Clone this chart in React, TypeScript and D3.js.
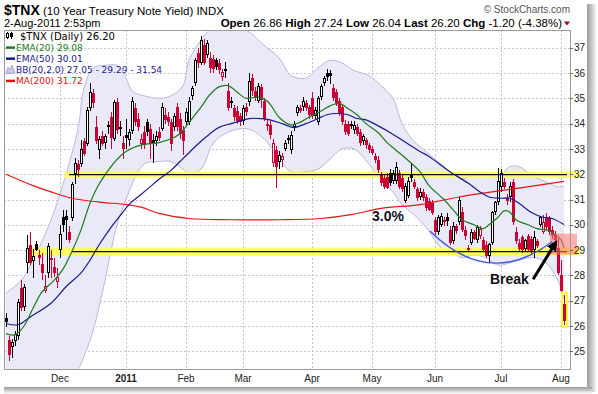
import { useEffect, useRef } from 'react';
import * as d3 from 'd3';

// trading calendar (NYSE) for the visible window
const firstDay = [2010, 10, 4];
const lastDay = [2011, 7, 2];
const holidays = ['2010-11-25', '2010-12-24', '2011-01-17', '2011-02-21', '2011-04-22', '2011-05-30', '2011-07-04'];

// daily OHLC of $TNX (yield x10)
const opens = [
    // Nov
    26.30, 25.45, 25.15, 25.40, 25.60, 27.50, 26.75, 28.50, 29.20, 28.55, 29.25, 28.80, 28.45, 27.40, 28.10, 28.70, 28.35, 27.75,
    // Dec
    29.00, 30.30, 30.35, 29.70, 30.25, 32.00, 32.40, 32.40, 33.30, 33.20, 34.60, 35.20, 33.85, 32.95, 33.50, 33.25, 33.85, 34.25, 33.40, 34.85, 33.85, 33.25,
    // Jan
    33.55, 33.35, 33.70, 34.60, 34.20, 33.20, 33.65, 34.05, 33.80, 33.35, 33.30, 33.65, 33.80, 34.35, 34.25, 34.05, 33.85, 34.65, 34.20, 33.75,
    // Feb
    34.05, 34.05, 35.10, 35.60, 36.80, 36.40, 37.10, 36.70, 36.60, 36.55, 36.50, 36.40, 35.85, 36.15, 35.30, 34.90, 34.60, 34.50, 34.30,
    // Mar
    34.10, 34.65, 34.85, 35.80, 35.30, 34.90, 35.45, 34.90, 33.90, 33.95, 32.45, 32.95, 32.50, 32.55, 33.00, 33.45, 32.95, 33.85, 34.40, 34.60, 34.65, 34.80, 34.65,
    // Apr
    35.00, 34.30, 34.05, 35.05, 35.60, 36.00, 36.00, 35.40, 35.25, 34.90, 34.65, 34.00, 34.00, 34.00, 33.75, 33.85, 33.65, 33.30, 33.35, 33.15,
    // May
    33.00, 32.70, 32.55, 31.95, 31.85, 31.90, 32.05, 31.75, 31.75, 32.05, 31.85, 30.95, 31.15, 32.00, 31.70, 31.40, 31.10, 31.30, 31.10, 30.95, 30.85,
    // Jun
    30.20, 29.70, 30.00, 30.20, 30.30, 29.80, 29.35, 29.95, 30.10, 30.50, 29.80, 29.00, 29.30, 29.70, 29.40, 29.55, 29.40, 29.20, 28.75, 29.30, 30.50, 30.90,
    // Jul
    31.50, 31.70, 31.05, 31.10, 31.70, 29.70, 29.30, 29.50, 29.05, 29.55, 29.45, 29.00, 29.35, 30.00, 29.70, 30.30, 30.25, 29.80, 29.65, 29.10,
    // Aug
    28.00, 26.86,
];
const highs = [
    26.50, 25.60, 25.50, 25.80, 27.05, 27.80, 27.65, 29.60, 29.70, 29.05, 29.35, 29.00, 28.90, 28.00, 29.30, 29.00, 28.70, 28.30,
    30.00, 30.60, 30.60, 29.95, 31.70, 32.65, 32.55, 33.35, 33.45, 34.65, 35.60, 35.35, 34.30, 33.50, 33.70, 33.60, 34.10, 34.45, 34.95, 35.00, 34.10, 33.50,
    34.20, 33.80, 35.05, 34.80, 34.40, 33.60, 33.90, 34.20, 34.00, 33.60, 33.70, 33.85, 34.80, 34.60, 34.45, 34.20, 34.40, 34.80, 34.40, 33.90,
    34.60, 35.05, 35.50, 36.60, 37.00, 37.45, 37.35, 37.30, 36.85, 36.70, 36.60, 36.55, 36.15, 36.45, 35.60, 35.05, 34.75, 34.70, 34.40,
    34.75, 34.80, 36.00, 35.95, 35.45, 35.60, 35.55, 35.00, 34.20, 34.10, 33.40, 33.10, 32.90, 32.85, 33.35, 33.55, 33.70, 34.10, 34.75, 34.75, 35.05, 34.95, 34.75,
    35.25, 34.65, 35.10, 35.55, 35.90, 36.15, 36.10, 35.55, 35.35, 35.00, 34.75, 34.15, 34.10, 34.10, 34.10, 34.00, 33.80, 33.60, 33.45, 33.25,
    33.10, 32.85, 32.70, 32.10, 31.95, 32.05, 32.20, 32.15, 32.50, 32.15, 31.95, 31.65, 31.90, 32.40, 31.80, 31.50, 31.45, 31.40, 31.20, 31.05, 31.00,
    30.30, 30.40, 30.45, 30.30, 30.45, 29.95, 30.10, 30.05, 31.10, 30.70, 29.95, 29.20, 29.85, 29.80, 30.00, 29.95, 29.50, 29.35, 29.30, 30.55, 30.95, 32.25,
    32.20, 31.85, 31.20, 31.70, 31.80, 29.90, 29.45, 29.60, 29.45, 29.65, 29.55, 29.75, 29.45, 30.35, 30.40, 30.45, 30.35, 29.95, 29.75, 29.45,
    28.60, 27.24,
];
const lows = [
    25.95, 24.60, 24.75, 25.20, 25.45, 26.60, 26.60, 28.10, 28.40, 27.90, 28.95, 28.40, 27.80, 27.30, 27.90, 27.90, 27.95, 27.50,
    28.70, 29.70, 29.40, 29.30, 30.15, 31.60, 31.90, 32.30, 32.70, 33.10, 34.50, 34.60, 33.20, 32.60, 33.10, 33.00, 33.60, 33.00, 33.30, 33.60, 33.50, 32.60,
    33.00, 33.10, 33.60, 33.90, 33.70, 33.00, 33.00, 33.50, 32.60, 32.45, 33.10, 33.30, 33.70, 34.00, 33.90, 32.90, 33.70, 33.70, 33.40, 32.75,
    33.90, 33.95, 34.95, 35.50, 36.20, 36.30, 36.30, 36.60, 36.00, 36.00, 36.10, 35.95, 35.70, 35.80, 34.50, 34.60, 34.10, 34.00, 33.90,
    33.95, 34.30, 34.70, 35.10, 34.90, 34.80, 34.60, 34.10, 33.70, 33.40, 32.30, 31.45, 32.20, 32.30, 32.90, 33.20, 32.80, 33.70, 34.30, 34.40, 34.50, 34.50, 34.20,
    34.20, 34.20, 33.95, 34.95, 35.50, 35.70, 35.55, 34.90, 34.70, 34.30, 33.95, 33.55, 33.50, 33.80, 33.60, 33.50, 33.10, 33.15, 33.00, 32.85,
    32.75, 32.45, 32.05, 31.55, 31.40, 31.40, 31.55, 31.60, 31.60, 31.40, 31.30, 30.85, 31.05, 31.70, 31.40, 30.95, 31.00, 30.95, 30.55, 30.55, 30.40,
    29.60, 29.60, 29.90, 29.95, 29.95, 29.20, 29.25, 29.65, 30.00, 29.70, 29.40, 28.95, 29.20, 29.40, 29.30, 29.45, 28.95, 28.70, 28.50, 29.20, 30.40, 30.80,
    31.30, 31.40, 30.80, 30.90, 30.00, 29.25, 28.95, 28.90, 28.95, 28.95, 28.85, 28.70, 29.10, 29.90, 29.65, 29.80, 29.60, 29.45, 29.30, 28.00,
    27.30, 26.04,
];
const closes = [
    26.15, 24.85, 25.35, 25.70, 26.95, 26.70, 27.55, 29.10, 28.50, 28.75, 29.00, 28.70, 28.10, 27.60, 29.15, 28.60, 28.10, 27.95,
    29.65, 30.00, 30.20, 29.40, 31.60, 32.45, 32.15, 33.00, 32.80, 34.55, 35.25, 34.80, 33.30, 33.40, 33.20, 33.50, 33.95, 33.45, 34.85, 33.75, 33.80, 33.00,
    33.45, 33.65, 34.90, 34.05, 33.85, 33.40, 33.15, 33.65, 33.20, 33.25, 33.50, 33.45, 34.65, 34.15, 34.05, 33.20, 34.30, 33.85, 33.60, 33.30,
    34.45, 34.90, 35.40, 36.50, 36.40, 37.30, 36.40, 37.20, 36.20, 36.15, 36.25, 36.10, 36.05, 36.08, 34.60, 34.80, 34.25, 34.10, 34.05,
    34.60, 34.45, 35.70, 35.30, 35.00, 35.50, 34.95, 34.20, 34.00, 33.55, 33.25, 32.30, 32.75, 32.70, 33.25, 33.35, 33.55, 34.00, 34.65, 34.50, 34.90, 34.60, 34.35,
    34.30, 34.55, 35.00, 35.50, 35.80, 35.85, 35.90, 35.00, 34.80, 34.40, 34.05, 33.65, 33.60, 33.90, 33.95, 33.60, 33.25, 33.50, 33.15, 32.95,
    32.85, 32.55, 32.15, 31.65, 31.50, 31.45, 31.65, 32.05, 32.30, 31.50, 31.40, 31.55, 31.75, 31.85, 31.50, 31.05, 31.30, 31.05, 30.65, 30.60, 30.45,
    29.70, 30.30, 30.35, 30.10, 30.15, 29.30, 29.95, 29.75, 31.00, 29.80, 29.55, 29.10, 29.70, 29.45, 29.90, 29.85, 29.00, 28.75, 29.25, 30.50, 30.90, 31.75,
    32.05, 31.50, 30.95, 31.55, 30.10, 29.35, 29.05, 29.00, 29.40, 29.00, 28.95, 29.50, 29.15, 30.30, 30.10, 29.90, 29.70, 29.55, 29.40, 28.10,
    27.40, 26.20,
];

// overlays as [bar index, value]
const ema20: [number, number][] = [
    [0, 25.7], [3, 25.65], [6, 26.0], [9, 26.7], [12, 27.35], [16, 27.8], [19, 28.25], [22, 28.95], [25, 29.8], [28, 30.85],
    [31, 31.6], [36, 32.45], [40, 32.9], [45, 33.15], [51, 33.25], [55, 33.4], [58, 33.6], [61, 34.05], [65, 34.65], [68, 35.15],
    [71, 35.45], [74, 35.5], [77, 35.25], [80, 35.0], [84, 35.05], [87, 34.9], [89, 34.6], [91, 34.25], [95, 33.95], [98, 34.05],
    [101, 34.25], [105, 34.5], [108, 34.7], [111, 34.8], [114, 34.6], [117, 34.35], [120, 34.0], [124, 33.65], [127, 33.25], [130, 32.95],
    [134, 32.55], [138, 32.1], [141, 31.55], [146, 31.0], [149, 30.6], [152, 30.2], [156, 30.0], [159, 29.85], [161, 30.0], [164, 30.3],
    [166, 30.55], [168, 30.5], [170, 30.2], [174, 30.0], [177, 29.85], [180, 29.8], [182, 29.7], [185, 29.4], [186, 29.08],
];
const ema50: [number, number][] = [
    [0, 26.1], [4, 26.05], [8, 26.35], [15, 26.9], [20, 27.55], [25, 28.1], [28, 28.6], [31, 29.2], [35, 29.9], [38, 30.35],
    [41, 30.8], [45, 31.2], [48, 31.5], [51, 31.8], [55, 32.15], [58, 32.5], [61, 32.85], [65, 33.3], [68, 33.6], [71, 33.85],
    [75, 34.0], [78, 34.1], [81, 34.2], [85, 34.2], [88, 34.15], [92, 34.0], [96, 33.85], [100, 34.0], [104, 34.2], [107, 34.35],
    [110, 34.4], [114, 34.35], [117, 34.2], [120, 34.15], [125, 33.85], [128, 33.65], [132, 33.35], [138, 32.9], [141, 32.7], [148, 32.1],
    [154, 31.65], [158, 31.3], [161, 31.1], [165, 31.05], [168, 31.05], [171, 30.85], [175, 30.5], [179, 30.3], [182, 30.25], [186, 30.01],
];
const ma200: [number, number][] = [
    [0, 32.0], [9, 31.55], [15, 31.3], [22, 31.05], [31, 30.9], [40, 30.8], [45, 30.7], [51, 30.45], [61, 30.25], [75, 30.2],
    [91, 30.2], [105, 30.25], [115, 30.4], [125, 30.65], [138, 30.8], [151, 31.1], [168, 31.4], [186, 31.72],
];
const bbIndex = [0, 5, 9, 15, 19, 24, 26, 29, 33, 37, 40, 42, 46, 51, 55, 59, 61, 65, 69, 73, 80, 86, 91, 95, 100, 104, 108, 112, 116, 121, 125, 129, 132, 136, 140, 145, 149, 152, 156, 160, 164, 168, 171, 176, 180, 184, 186];
const bbUpper = [27.3, 27.8, 28.6, 30.2, 31.6, 33.8, 35.4, 36.2, 36.3, 36.3, 35.8, 35.3, 35.1, 35.0, 35.1, 35.5, 36.5, 37.3, 37.8, 37.9, 37.7, 37.1, 36.6, 35.9, 35.8, 36.2, 36.5, 36.4, 36.1, 35.9, 35.5, 35.0, 34.0, 33.3, 32.9, 32.4, 32.0, 31.8, 32.0, 32.0, 31.9, 32.3, 32.3, 31.9, 31.7, 31.5, 31.54];
const bbLower = [23.5, 23.6, 23.7, 23.9, 23.9, 24.3, 24.8, 25.8, 27.8, 30.0, 31.0, 31.6, 32.4, 32.5, 32.5, 32.2, 32.0, 32.2, 33.2, 33.6, 33.8, 33.4, 32.6, 32.1, 32.1, 32.2, 32.6, 33.0, 33.0, 32.4, 31.8, 31.3, 30.8, 30.4, 29.9, 29.1, 28.9, 28.7, 28.8, 28.7, 28.4, 28.5, 28.6, 28.7, 28.5, 27.8, 27.05];

const yTicks = d3.range(25, 38);
const supportLevels = [31.98, 28.94];
const supportStart = [19.5, 8.6];
const quote: [string, string][] = [['Open', '26.86'], ['High', '27.24'], ['Low', '26.04'], ['Last', '26.20'], ['Chg', '-1.20 (-4.38%)']];
const legendRows = [
    { label: '$TNX (Daily) 26.20', color: '#000', icon: 'candle' },
    { label: 'EMA(20) 29.08', color: '#1e7a1e', icon: 'line' },
    { label: 'EMA(50) 30.01', color: '#1a1a8c', icon: 'line' },
    { label: 'BB(20,2.0) 27.05 - 29.29 - 31.54', color: '#1a1a8c', icon: 'band' },
    { label: 'MA(200) 31.72', color: '#e01010', icon: 'line' },
];

function tradingDays() {
    const off = new Set(holidays);
    const out: Date[] = [];
    const end = Date.UTC(lastDay[0], lastDay[1], lastDay[2]);
    for (let t = Date.UTC(firstDay[0], firstDay[1], firstDay[2]); t <= end; t += 86400000) {
        const d = new Date(t);
        const wd = d.getUTCDay();
        if (wd === 0 || wd === 6 || off.has(d.toISOString().slice(0, 10))) continue;
        out.push(d);
    }
    return out;
}

export default function App() {
    const ref = useRef<SVGSVGElement | null>(null);

    useEffect(() => {
        const svg = d3.select(ref.current);
        svg.selectAll('*').remove();

        const days = tradingDays();
        const left = 4, right = 570, top = 30, bottom = 369;
        const x = d3.scaleLinear().domain([0, days.length - 1]).range([6, 564]);
        const y = d3.scaleLinear().domain([24.3, 37.7]).range([bottom, top]);
        const font = 'Liberation Sans, Arial, sans-serif';
        const legendFont = 'DejaVu Sans, Verdana, sans-serif';
        const red = '#cc0033';

        const defs = svg.append('defs');
        defs.append('clipPath').attr('id', 'plot')
            .append('rect').attr('x', left).attr('y', top).attr('width', right - left).attr('height', bottom - top);
        const gr = defs.append('linearGradient').attr('id', 'shR').attr('x1', 0).attr('x2', 1).attr('y1', 0).attr('y2', 0);
        gr.append('stop').attr('offset', 0).attr('stop-color', '#9a9a9a');
        gr.append('stop').attr('offset', 1).attr('stop-color', '#ffffff');
        const gb = defs.append('linearGradient').attr('id', 'shB').attr('x1', 0).attr('x2', 0).attr('y1', 0).attr('y2', 1);
        gb.append('stop').attr('offset', 0).attr('stop-color', '#9a9a9a');
        gb.append('stop').attr('offset', 1).attr('stop-color', '#ffffff');
        defs.append('marker').attr('id', 'arrow').attr('viewBox', '0 0 10 10')
            .attr('refX', 6).attr('refY', 5).attr('markerWidth', 3.6).attr('markerHeight', 3.6)
            .attr('orient', 'auto')
            .append('path').attr('d', 'M0,0 L10,5 L0,10 z').attr('fill', '#000');

        // page + drop shadow
        svg.append('rect').attr('width', 598).attr('height', 394).attr('fill', '#fff');
        svg.append('rect').attr('x', 587).attr('y', 4).attr('width', 10).attr('height', 388).attr('fill', 'url(#shR)');
        svg.append('rect').attr('x', 4).attr('y', 387).attr('width', 588).attr('height', 7).attr('fill', 'url(#shB)');

        // grid
        const grid = svg.append('g').attr('stroke', '#c4c4c4').attr('stroke-dasharray', '2,2').attr('stroke-width', 1);
        grid.selectAll('line.h').data(yTicks).enter().append('line')
            .attr('x1', left).attr('x2', right)
            .attr('y1', (d) => Math.round(y(d)) + 0.5).attr('y2', (d) => Math.round(y(d)) + 0.5);
        const monthStarts = days.map((d, i) => ({ d, i }))
            .filter(({ d, i }) => i > 0 && d.getUTCMonth() !== days[i - 1].getUTCMonth());
        grid.selectAll('line.v').data(monthStarts).enter().append('line')
            .attr('x1', (d) => Math.round(x(d.i)) + 0.5).attr('x2', (d) => Math.round(x(d.i)) + 0.5)
            .attr('y1', top).attr('y2', bottom);

        const plot = svg.append('g').attr('clip-path', 'url(#plot)');

        // Bollinger band
        const bb = bbIndex.map((i, k) => ({ i, u: bbUpper[k], l: bbLower[k] }));
        const curve = d3.curveCatmullRom.alpha(0.5);
        plot.append('path').datum(bb)
            .attr('fill', '#e9e9f7')
            .attr('d', d3.area<{ i: number; u: number; l: number }>()
                .x((d) => x(d.i)).y0((d) => y(d.l)).y1((d) => y(d.u)).curve(curve));
        ['u', 'l'].forEach((k) => {
            plot.append('path').datum(bb)
                .attr('fill', 'none').attr('stroke', '#b9b9dd').attr('stroke-width', 1)
                .attr('d', d3.line<{ i: number; u: number; l: number }>()
                    .x((d) => x(d.i)).y((d) => y(k === 'u' ? d.u : d.l)).curve(curve));
        });

        // yellow support / resistance bands, under the candles
        const bands = svg.append('g');
        supportLevels.forEach((lv, k) => {
            const h = k === 0 ? 6 : 8;
            bands.append('rect')
                .attr('x', x(supportStart[k])).attr('width', right + 10 - x(supportStart[k]))
                .attr('y', y(lv) - h / 2).attr('height', h)
                .attr('fill', '#ffff50').attr('opacity', 0.85);
        });

        // candles
        const candles = svg.append('g').attr('clip-path', 'url(#plot)').attr('shape-rendering', 'crispEdges');
        closes.forEach((c, i) => {
            const o = opens[i];
            const color = i > 0 && c < closes[i - 1] ? red : '#000';
            const cx = Math.round(x(i));
            candles.append('line')
                .attr('x1', cx + 0.5).attr('x2', cx + 0.5)
                .attr('y1', y(highs[i])).attr('y2', y(lows[i]))
                .attr('stroke', color).attr('stroke-width', 1);
            const yTop = Math.round(y(Math.max(o, c)));
            const yBot = Math.round(y(Math.min(o, c)));
            if (c >= o) {
                candles.append('rect')
                    .attr('x', cx - 0.5).attr('y', yTop + 0.5)
                    .attr('width', 2).attr('height', Math.max(1, yBot - yTop - 1))
                    .attr('fill', '#fff').attr('stroke', color).attr('stroke-width', 1);
            } else {
                candles.append('rect')
                    .attr('x', cx - 1).attr('y', yTop)
                    .attr('width', 3).attr('height', Math.max(1, yBot - yTop))
                    .attr('fill', color);
            }
        });

        // moving averages
        const lines = svg.append('g').attr('clip-path', 'url(#plot)');
        const ln = d3.line<[number, number]>().x((d) => x(d[0])).y((d) => y(d[1])).curve(curve);
        [
            { data: ma200, color: '#e8141a' },
            { data: ema50, color: '#1a1a8c' },
            { data: ema20, color: '#1e7a1e' },
        ].forEach((s) => {
            lines.append('path').datum(s.data)
                .attr('fill', 'none').attr('stroke', s.color).attr('stroke-width', 1.2)
                .attr('d', ln);
        });

        // black trend lines on the bands
        const lineStart = [21, 22];
        supportLevels.forEach((lv, k) => {
            svg.append('line')
                .attr('x1', x(lineStart[k])).attr('x2', x(days.length - 1) + 3)
                .attr('y1', y(lv)).attr('y2', y(lv))
                .attr('stroke', '#111').attr('stroke-width', 1.3);
        });

        // breakdown highlight
        svg.append('rect')
            .attr('x', x(181.3)).attr('width', right + 7 - x(181.3))
            .attr('y', y(29.65)).attr('height', y(28.82) - y(29.65))
            .attr('fill', '#ff7070').attr('opacity', 0.55);
        const last = days.length - 1;
        svg.append('rect')
            .attr('x', Math.round(x(last)) - 2).attr('width', 5)
            .attr('y', y(highs[last]) - 2).attr('height', y(lows[last]) - y(highs[last]) + 4)
            .attr('fill', 'none').attr('stroke', '#ffff30').attr('stroke-width', 2);

        // rounding bottom arc
        const arc = d3.path();
        arc.moveTo(x(141.3), y(29.75));
        arc.quadraticCurveTo(x(161), y(27.45), x(182), y(29.33));
        svg.append('path').attr('d', arc.toString())
            .attr('fill', 'none').attr('stroke', '#3c55e6').attr('stroke-width', 1.4);

        // arrow + notes
        svg.append('line')
            .attr('x1', x(175.7)).attr('y1', y(27.85))
            .attr('x2', x(183.0)).attr('y2', y(29.25))
            .attr('stroke', '#000').attr('stroke-width', 3)
            .attr('marker-end', 'url(#arrow)');
        svg.append('text').attr('x', x(161.3)).attr('y', y(27.65))
            .attr('font-family', font).attr('font-size', 14).attr('font-weight', 'bold')
            .attr('fill', '#111').text('Break');
        svg.append('text').attr('x', x(122)).attr('y', y(30.15))
            .attr('font-family', font).attr('font-size', 14).attr('font-weight', 'bold')
            .attr('fill', '#111122').text('3.0%');

        // frame
        svg.append('rect').attr('x', left + 0.5).attr('y', top + 0.5)
            .attr('width', right - left).attr('height', bottom - top)
            .attr('fill', 'none').attr('stroke', '#9a9a9a').attr('shape-rendering', 'crispEdges');

        // right axis
        const ax = svg.append('g');
        ax.selectAll('line').data(yTicks).enter().append('line')
            .attr('x1', right).attr('x2', right + 3)
            .attr('y1', (d) => Math.round(y(d)) + 0.5).attr('y2', (d) => Math.round(y(d)) + 0.5)
            .attr('stroke', '#666');
        ax.selectAll('text').data(yTicks).enter().append('text')
            .attr('x', right + 4).attr('y', (d) => y(d) + 3.6)
            .attr('font-family', font).attr('font-size', 10).attr('fill', '#222')
            .text((d) => d);

        // month labels
        svg.append('g').selectAll('text').data(monthStarts).enter().append('text')
            .attr('x', (d) => x(d.i)).attr('y', 382)
            .attr('text-anchor', 'middle')
            .attr('font-family', font).attr('font-size', 10)
            .attr('font-weight', (d) => (d.d.getUTCMonth() === 0 ? 'bold' : 'normal'))
            .attr('fill', '#222')
            .text((d) => (d.d.getUTCMonth() === 0 ? String(d.d.getUTCFullYear()) : d3.utcFormat('%b')(d.d)));

        // legend
        const lg = svg.append('g');
        legendRows.forEach((r, k) => {
            const base = 40 + k * 11.1;
            const row = lg.append('g');
            if (r.icon === 'candle') {
                row.append('line').attr('x1', 7.5).attr('x2', 7.5).attr('y1', base - 8).attr('y2', base - 1).attr('stroke', '#000');
                row.append('rect').attr('x', 6.5).attr('y', base - 6.5).attr('width', 2).attr('height', 4).attr('fill', '#fff').attr('stroke', '#000');
                row.append('line').attr('x1', 11.5).attr('x2', 11.5).attr('y1', base - 8).attr('y2', base - 1).attr('stroke', '#000');
                row.append('rect').attr('x', 10).attr('y', base - 7).attr('width', 3).attr('height', 4).attr('fill', '#000');
            } else if (r.icon === 'band') {
                row.append('path')
                    .attr('d', `M6,${base} L8,${base - 6} L10,${base - 4} L12,${base - 8} L15,${base} Z`)
                    .attr('fill', '#c8c8e8').attr('stroke', '#a8a8d8');
            } else {
                row.append('line').attr('x1', 6).attr('x2', 15).attr('y1', base - 3.5).attr('y2', base - 3.5)
                    .attr('stroke', r.color).attr('stroke-width', 2.5);
            }
            row.append('text').attr('x', k === 0 ? 20 : 16).attr('y', base)
                .attr('font-family', legendFont).attr('font-size', k === 0 ? 10 : 9)
                .attr('fill', r.color).text(r.label);
        });

        // header
        const hd = svg.append('text').attr('x', 4).attr('y', 15).attr('font-family', font).attr('fill', '#000');
        hd.append('tspan').attr('font-size', 14).attr('font-weight', 'bold').text('$TNX');
        hd.append('tspan').attr('font-size', 11.5).text(' (10 Year Treasury Note Yield) INDX');
        svg.append('text').attr('x', 4).attr('y', 27).attr('font-family', font).attr('font-size', 11)
            .attr('fill', '#000').text('2-Aug-2011 2:53pm');
        const qt = svg.append('text').attr('x', 562).attr('y', 27).attr('text-anchor', 'end')
            .attr('font-family', font).attr('font-size', 11.5).attr('fill', '#000');
        quote.forEach(([k, v], n) => {
            qt.append('tspan').attr('font-weight', 'bold').text((n ? '  ' : '') + k + ' ');
            qt.append('tspan').text(v);
        });
        svg.append('path').attr('d', 'M564,21.5 L570,21.5 L567,25.5 Z').attr('fill', '#a00028');
        svg.append('text').attr('x', 570).attr('y', 13).attr('text-anchor', 'end')
            .attr('font-family', font).attr('font-size', 10).attr('fill', '#555')
            .text('© StockCharts.com');
    }, []);

    return <svg ref={ref} width={598} height={394} style={{ position: 'absolute', left: 0, top: 0 }} />;
}
